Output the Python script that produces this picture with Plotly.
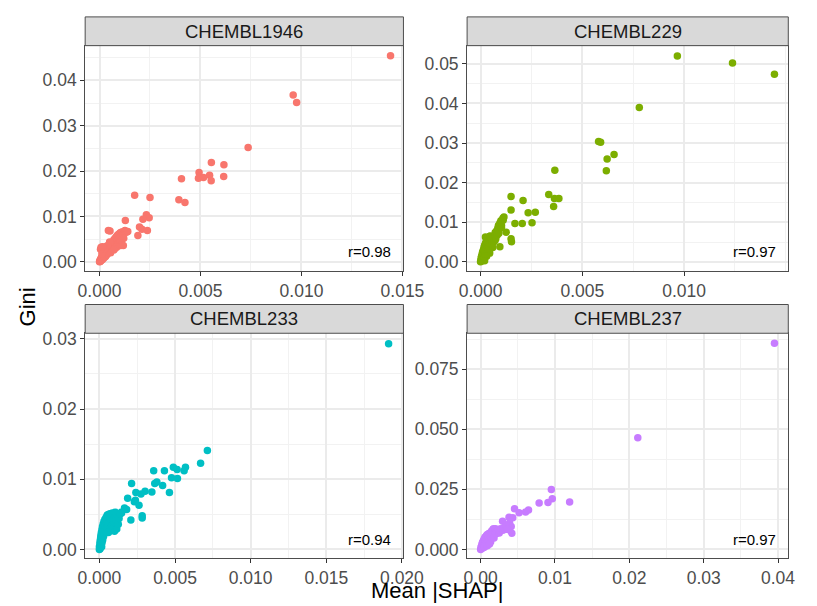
import plotly.graph_objects as go

# ---------------------------------------------------------------
# Mean |SHAP| vs. Gini importance per target
# ---------------------------------------------------------------
targets = ["CHEMBL1946", "CHEMBL229", "CHEMBL233", "CHEMBL237"]
r_labels = ["r=0.98", "r=0.97", "r=0.94", "r=0.97"]
colors = ["#F8766D", "#7CAE00", "#00BFC4", "#C77CFF"]

shap_1946 = [
    0.01441, 0.00959, 0.00976, 0.00736, 0.00554, 0.00616, 0.00493, 0.00490, 0.00515, 0.00545,
    0.00553, 0.00615, 0.00406, 0.00393, 0.00423, 0.00174, 0.00250, 0.00232, 0.00246, 0.00215,
    0.00128, 0.00044, 0.00052, 0.00210, 0.00190, 0.00237, 0.00198, 0.00126,
    0.00000, 0.00002, 0.00003, 0.00005, 0.00006, 0.00008, 0.00010, 0.00010, 0.00012, 0.00014,
    0.00015, 0.00017, 0.00018, 0.00020, 0.00022, 0.00023, 0.00025, 0.00027, 0.00028, 0.00030,
    0.00032, 0.00033, 0.00035, 0.00037, 0.00038, 0.00040, 0.00042, 0.00045, 0.00045, 0.00048,
    0.00050, 0.00052, 0.00055, 0.00057, 0.00060, 0.00062, 0.00065, 0.00067, 0.00070, 0.00072,
    0.00075, 0.00078, 0.00080, 0.00082, 0.00085, 0.00088, 0.00090, 0.00093, 0.00095, 0.00098,
    0.00100, 0.00103, 0.00105, 0.00108, 0.00110, 0.00113, 0.00115, 0.00120, 0.00125, 0.00130,
    0.00135, 0.00140, 0.00110, 0.00120, 0.00090, 0.00100, 0.00105, 0.00085, 0.00070, 0.00055,
    0.00075, 0.00030, 0.00020, 0.00050, 0.00040, 0.00012, 0.00025, 0.00005, 0.00008, 0.00015,
    0.00071, 0.00118,
]
gini_1946 = [
    0.0454, 0.0368, 0.0351, 0.0252, 0.0219, 0.0214, 0.0197, 0.0184, 0.0186, 0.0191,
    0.0179, 0.0188, 0.0183, 0.0137, 0.0131, 0.0147, 0.0142, 0.0104, 0.0097, 0.0094,
    0.0091, 0.0069, 0.0068, 0.0072, 0.0058, 0.0069, 0.0077, 0.0069,
    0.0000, 0.0003, 0.0001, 0.0005, 0.0002, 0.0008, 0.0004, 0.0010, 0.0006, 0.0012,
    0.0005, 0.0009, 0.0015, 0.0008, 0.0013, 0.0018, 0.0010, 0.0016, 0.0022, 0.0012,
    0.0020, 0.0026, 0.0015, 0.0023, 0.0030, 0.0018, 0.0027, 0.0033, 0.0020, 0.0030,
    0.0024, 0.0036, 0.0028, 0.0039, 0.0032, 0.0042, 0.0035, 0.0045, 0.0038, 0.0049,
    0.0041, 0.0052, 0.0044, 0.0055, 0.0047, 0.0058, 0.0050, 0.0060, 0.0052, 0.0062,
    0.0054, 0.0064, 0.0056, 0.0065, 0.0058, 0.0066, 0.0060, 0.0064, 0.0067, 0.0065,
    0.0066, 0.0067, 0.0048, 0.0052, 0.0038, 0.0042, 0.0036, 0.0032, 0.0028, 0.0020,
    0.0029, 0.0033, 0.0024, 0.0044, 0.0036, 0.0018, 0.0029, 0.0028, 0.0032, 0.0033,
    0.0026, 0.0036,
]

shap_229 = [
    0.00967, 0.01238, 0.01444, 0.00780, 0.00580, 0.00590, 0.00656, 0.00622, 0.00618, 0.00365,
    0.00335, 0.00363, 0.00385, 0.00359, 0.00150, 0.00209, 0.00150, 0.00234, 0.00269, 0.00169,
    0.00205, 0.00253, 0.00126, 0.00150, 0.00152, 0.00095, 0.00115, 0.00111, 0.00103, 0.00087,
    0.00079, 0.00047, 0.00024, 0.00071, 0.00039,
    0.00000, 0.00002, 0.00003, 0.00005, 0.00005, 0.00007, 0.00008, 0.00010, 0.00010, 0.00012,
    0.00013, 0.00014, 0.00015, 0.00017, 0.00018, 0.00019, 0.00020, 0.00022, 0.00023, 0.00024,
    0.00025, 0.00027, 0.00028, 0.00030, 0.00032, 0.00033, 0.00035, 0.00037, 0.00040, 0.00042,
    0.00045, 0.00047, 0.00050, 0.00055, 0.00060, 0.00065, 0.00070, 0.00072, 0.00075, 0.00080,
    0.00082, 0.00085, 0.00088, 0.00090, 0.00095, 0.00100, 0.00103, 0.00110, 0.00060, 0.00045,
    0.00030, 0.00020,
]
gini_229 = [
    0.0520, 0.0502, 0.0474, 0.0390, 0.0304, 0.0302, 0.0271, 0.0260, 0.0230, 0.0231,
    0.0170, 0.0160, 0.0160, 0.0140, 0.0165, 0.0155, 0.0131, 0.0124, 0.0125, 0.0097,
    0.0097, 0.0099, 0.0075, 0.0058, 0.0051, 0.0038, 0.0113, 0.0105, 0.0092, 0.0079,
    0.0071, 0.0065, 0.0063, 0.0054, 0.0046,
    0.0000, 0.0004, 0.0009, 0.0002, 0.0014, 0.0006, 0.0019, 0.0011, 0.0025, 0.0005,
    0.0016, 0.0030, 0.0021, 0.0036, 0.0010, 0.0027, 0.0041, 0.0032, 0.0018, 0.0046,
    0.0025, 0.0038, 0.0052, 0.0030, 0.0043, 0.0060, 0.0036, 0.0050, 0.0040, 0.0055,
    0.0064, 0.0046, 0.0058, 0.0052, 0.0062, 0.0050, 0.0068, 0.0074, 0.0058, 0.0079,
    0.0068, 0.0085, 0.0092, 0.0072, 0.0098, 0.0104, 0.0086, 0.0110, 0.0036, 0.0022,
    0.0014, 0.0003,
]

shap_233 = [
    0.01912, 0.00714, 0.00669, 0.00569, 0.00560, 0.00489, 0.00514, 0.00430, 0.00359, 0.00477,
    0.00516, 0.00380, 0.00366, 0.00418, 0.00463, 0.00347, 0.00302, 0.00213, 0.00187, 0.00283,
    0.00283, 0.00208, 0.00262, 0.00238, 0.00275, 0.00166, 0.00241, 0.00231, 0.00147, 0.00115,
    0.00180,
    0.00000, 0.00000, 0.00002, 0.00003, 0.00005, 0.00005, 0.00008, 0.00008, 0.00010, 0.00010,
    0.00012, 0.00013, 0.00015, 0.00015, 0.00017, 0.00018, 0.00020, 0.00020, 0.00022, 0.00025,
    0.00025, 0.00028, 0.00030, 0.00030, 0.00033, 0.00035, 0.00037, 0.00040, 0.00042, 0.00045,
    0.00048, 0.00050, 0.00052, 0.00055, 0.00058, 0.00060, 0.00062, 0.00065, 0.00068, 0.00070,
    0.00072, 0.00075, 0.00078, 0.00080, 0.00082, 0.00085, 0.00088, 0.00090, 0.00093, 0.00095,
    0.00100, 0.00100, 0.00105, 0.00108, 0.00110, 0.00115, 0.00120, 0.00125, 0.00130, 0.00135,
    0.00145,
]
gini_233 = [
    0.0293, 0.0141, 0.0123, 0.0117, 0.0112, 0.0117, 0.0114, 0.0112, 0.0112, 0.0102,
    0.0101, 0.0096, 0.0094, 0.0091, 0.0081, 0.0082, 0.0083, 0.0094, 0.0073, 0.0048,
    0.0045, 0.0042, 0.0063, 0.0070, 0.0079, 0.0059, 0.0081, 0.0068, 0.0052, 0.0047,
    0.0057,
    0.0000, 0.0004, 0.0002, 0.0008, 0.0001, 0.0012, 0.0005, 0.0016, 0.0009, 0.0020,
    0.0013, 0.0024, 0.0004, 0.0017, 0.0028, 0.0010, 0.0022, 0.0032, 0.0014, 0.0026,
    0.0036, 0.0019, 0.0030, 0.0040, 0.0023, 0.0034, 0.0043, 0.0027, 0.0038, 0.0046,
    0.0031, 0.0042, 0.0049, 0.0035, 0.0045, 0.0024, 0.0050, 0.0038, 0.0047, 0.0030,
    0.0051, 0.0041, 0.0027, 0.0049, 0.0034, 0.0052, 0.0043, 0.0030, 0.0050, 0.0038,
    0.0046, 0.0026, 0.0053, 0.0035, 0.0042, 0.0029, 0.0048, 0.0036, 0.0044, 0.0050,
    0.0053,
]

shap_237 = [
    0.03952, 0.02114, 0.00951, 0.00964, 0.00906, 0.01197, 0.00787, 0.00644, 0.00605, 0.00456,
    0.00517, 0.00382, 0.00432, 0.00295, 0.00389, 0.00419, 0.00411, 0.00367, 0.00259, 0.00173,
    0.00195,
    0.00000, 0.00005, 0.00010, 0.00015, 0.00020, 0.00025, 0.00030, 0.00035, 0.00040, 0.00045,
    0.00050, 0.00055, 0.00060, 0.00065, 0.00070, 0.00075, 0.00080, 0.00085, 0.00090, 0.00100,
    0.00105, 0.00110, 0.00120, 0.00130, 0.00135, 0.00140, 0.00150, 0.00160, 0.00170, 0.00180,
    0.00190, 0.00200, 0.00210, 0.00220, 0.00240, 0.00250, 0.00260, 0.00280, 0.00300, 0.00320,
    0.00340, 0.00360, 0.00050, 0.00090, 0.00120,
]
gini_237 = [
    0.0857, 0.0465, 0.0249, 0.0211, 0.0195, 0.0197, 0.0193, 0.0164, 0.0156, 0.0169,
    0.0153, 0.0134, 0.0132, 0.0117, 0.0110, 0.0068, 0.0096, 0.0083, 0.0085, 0.0085,
    0.0069,
    0.0000, 0.0010, 0.0004, 0.0020, 0.0012, 0.0030, 0.0006, 0.0022, 0.0038, 0.0015,
    0.0045, 0.0028, 0.0052, 0.0035, 0.0018, 0.0044, 0.0058, 0.0027, 0.0062, 0.0038,
    0.0050, 0.0066, 0.0044, 0.0070, 0.0032, 0.0056, 0.0078, 0.0062, 0.0085, 0.0048,
    0.0073, 0.0086, 0.0065, 0.0076, 0.0082, 0.0069, 0.0078, 0.0086, 0.0080, 0.0089,
    0.0098, 0.0084, 0.0009, 0.0016, 0.0023,
]

shap_values = [shap_1946, shap_229, shap_233, shap_237]
gini_values = [gini_1946, gini_229, gini_233, gini_237]

# x tick labels per facet (the right column keeps its labels inside the page)
x_ticks = [
    [0.000, 0.005, 0.010, 0.015],
    [0.000, 0.005, 0.010],
    [0.000, 0.005, 0.010, 0.015, 0.020],
    [0.00, 0.01, 0.02, 0.03, 0.04],
]
x_tick_text = [
    ["0.000", "0.005", "0.010", "0.015"],
    ["0.000", "0.005", "0.010"],
    ["0.000", "0.005", "0.010", "0.015", "0.020"],
    ["0.00", "0.01", "0.02", "0.03", "0.04"],
]

# axis settings per facet (free scales)
x_ranges = [[-0.00071, 0.01505], [-0.00066, 0.01512], [-0.00094, 0.02010], [-0.00182, 0.04138]]
y_ranges = [[-0.00197, 0.04765], [-0.00226, 0.0546], [-0.00127, 0.0308], [-0.0037, 0.0899]]
x_steps = [0.005, 0.005, 0.005, 0.01]
y_steps = [0.01, 0.01, 0.01, 0.025]
y_formats = [".2f", ".2f", ".2f", ".3f"]

W, H = 817, 606
col_px = [(80, 410), (476, 809)]
row_px = [(42, 269), (332, 559)]
STRIP_H = 29

FONT = "Liberation Sans, Arial, sans-serif"
BORDER = "#4D4D4D"

fig = go.Figure()
annotations = []
shapes = []

for i in range(4):
    r, c = divmod(i, 2)
    suffix = "" if i == 0 else str(i + 1)
    xd = [col_px[c][0] / W, col_px[c][1] / W]
    yd = [1 - row_px[r][1] / H, 1 - row_px[r][0] / H]

    fig.add_trace(go.Scatter(
        x=shap_values[i], y=gini_values[i], mode="markers",
        marker=dict(color=colors[i], size=7.5, line=dict(width=0)),
        xaxis="x" + suffix, yaxis="y" + suffix, showlegend=False,
        hoverinfo="skip",
    ))

    common = dict(
        showgrid=True, gridcolor="#EBEBEB", gridwidth=1.5, zeroline=False,
        showline=True, mirror=True, linecolor=BORDER, linewidth=1,
        ticks="outside", ticklen=4, tickcolor="#333333", tickwidth=1,
        tickfont=dict(family=FONT, size=17.5, color="#4D4D4D"),
    )
    fig.update_layout(**{
        "xaxis" + suffix: dict(
            common, domain=xd, range=x_ranges[i],
            tickmode="array", tickvals=x_ticks[i], ticktext=x_tick_text[i],
            anchor="y" + suffix,
            minor=dict(tickmode="linear", tick0=0, dtick=x_steps[i] / 2,
                       showgrid=True, gridcolor="#F2F2F2", gridwidth=1),
        ),
        "yaxis" + suffix: dict(
            common, domain=yd, range=y_ranges[i], tick0=0, dtick=y_steps[i],
            tickformat=y_formats[i], anchor="x" + suffix,
            minor=dict(tickmode="linear", tick0=0, dtick=y_steps[i] / 2,
                       showgrid=True, gridcolor="#F2F2F2", gridwidth=1),
        ),
    })

    # facet strip
    s_top = 1 - (row_px[r][0] - STRIP_H) / H
    shapes.append(dict(
        type="rect", xref="paper", yref="paper",
        x0=xd[0], x1=xd[1], y0=yd[1], y1=s_top,
        fillcolor="#D9D9D9", line=dict(color=BORDER, width=1), layer="above",
    ))
    annotations.append(dict(
        text=targets[i], xref="paper", yref="paper",
        x=(xd[0] + xd[1]) / 2, y=(yd[1] + s_top) / 2,
        showarrow=False, xanchor="center", yanchor="middle",
        font=dict(family=FONT, size=18.5, color="#1A1A1A"),
    ))

    # correlation label in the lower-right corner
    annotations.append(dict(
        text=r_labels[i], xref="paper", yref="paper",
        x=(col_px[c][1] - 35.5) / W, y=1 - (row_px[r][1] - 19) / H,
        showarrow=False, xanchor="center", yanchor="middle",
        font=dict(family=FONT, size=15, color="#000000"),
    ))

# shared axis titles (kept inside the page height)
annotations.append(dict(
    text="Gini", xref="paper", yref="paper", x=20 / W, y=1 - 305.7 / H,
    textangle=-90, showarrow=False, xanchor="center", yanchor="middle",
    font=dict(family=FONT, size=22, color="#000000"),
))
annotations.append(dict(
    text="Mean |SHAP|", xref="paper", yref="paper", x=444.5 / W, y=1 - 591 / H,
    showarrow=False, xanchor="center", yanchor="middle",
    font=dict(family=FONT, size=22, color="#000000"),
))

fig.update_layout(
    width=W, height=H,
    margin=dict(l=0, r=0, t=0, b=0),
    paper_bgcolor="white", plot_bgcolor="white",
    annotations=annotations, shapes=shapes,
    showlegend=False,
)

fig.write_html("out.html")
